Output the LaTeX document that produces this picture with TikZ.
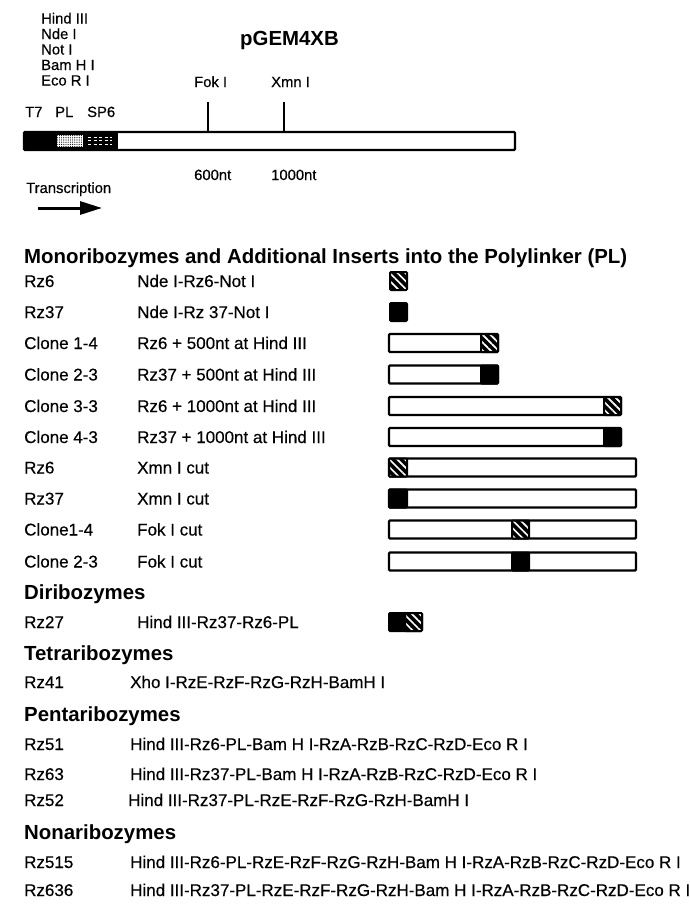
\documentclass[tikz,border=0pt]{standalone}
\usepackage{fontspec}
\setmainfont{Liberation Sans}
\newfontfamily\grueso{Liberation Sans}[FakeBold=0.4]
\usetikzlibrary{arrows.meta, patterns.meta, positioning}

\begin{document}
\begin{tikzpicture}[
  x=1pt, y=-1pt,
  lbl/.style={anchor=base west, inner sep=0pt, font=\grueso\fontsize{17}{19}\selectfont},
  tag/.style={anchor=base west, inner sep=0pt, font=\grueso\fontsize{14.8}{16}\selectfont},
  sec/.style={anchor=base west, inner sep=0pt, font=\fontsize{20.4}{22}\selectfont\bfseries},
  barra/.style={draw=black, line width=2.4pt, fill=white, rounded corners=1pt},
  rz37/.style={fill=black, draw=black, line width=2pt, rounded corners=1pt},
  rz6/.style={fill=black, rounded corners=1pt,
    postaction={pattern={Lines[angle=-45, distance=5.5pt, line width=1.7pt]}, pattern color=white},
    postaction={draw=black, line width=2pt}},
  corte/.style={line width=1.6pt},
  flecha/.style={-{Triangle[length=22pt, width=13pt]}, line width=3pt}
]

%% marco de la figura
\useasboundingbox (0,0) rectangle (690,910);

%% ─────────────────────────────────────────────────────────
%% PLÁSMIDO pGEM4XB
%% ─────────────────────────────────────────────────────────
\foreach \s [count=\i] in {Hind III, Nde I, Not I, Bam H I, Eco R I}
  \node[tag] (sitio\i) at (41, 8+15.5*\i) {\s};

\node[sec] (titulo) at (240,45) {pGEM4XB};

\node[tag] (fok)  at (194,87) {Fok I};
\node[tag] (xmn)  at (271,87) {Xmn I};

\node[tag] (t7)  at (25,117) {T7};
\node[tag] (pl)  at (55,117) {PL};
\node[tag] (sp6) at (87,117) {SP6};

% barra del plásmido
\draw[barra] (24,132) rectangle (515,150);
\fill (24,132) rectangle (118,150);
\fill[white] (57,135) rectangle (83,147);
\fill[pattern={Dots[distance=2.2pt, radius=0.6pt]}, pattern color=black]
  (57,135) rectangle (83,147);
\foreach \yy in {137,140.5,144}
  \draw[white, line width=0.5pt, dash pattern=on 3pt off 2.5pt] (88,\yy) -- (112,\yy);

% sitios de corte
\coordinate (pfok) at (208,132);
\coordinate (pxmn) at (284,132);
\draw[corte] (pfok) -- ++(0,-30);
\draw[corte] (pxmn) -- ++(0,-30);

\node[tag] (n600)  at (194,180) {600nt};
\node[tag] (n1000) at (271,180) {1000nt};

% transcripción
\node[tag] (transc) at (26,193) {Transcription};
\coordinate (ta) at (38,208);
\coordinate (tb) at (102,208);
\draw[flecha] (ta) -- (tb);

%% ─────────────────────────────────────────────────────────
%% MONORIBOZIMAS
%% ─────────────────────────────────────────────────────────
\node[sec] (mono) at (24,263)
  {Monoribozymes and Additional Inserts into the Polylinker (PL)};

\foreach \yc/\nm/\ins [count=\i] in {
    281/Rz6/Nde I-Rz6-Not I,
    312/Rz37/Nde I-Rz 37-Not I,
    343/Clone 1-4/Rz6 + 500nt at Hind III,
    374.5/Clone 2-3/Rz37 + 500nt at Hind III,
    406/Clone 3-3/Rz6 + 1000nt at Hind III,
    437/Clone 4-3/Rz37 + 1000nt at Hind III,
    467.5/Rz6/Xmn I cut,
    498.5/Rz37/Xmn I cut,
    529.5/Clone1-4/Fok I cut,
    561.5/Clone 2-3/Fok I cut}
{
  \node[lbl] (mn\i) at (24,\yc+6) {\nm};
  \node[lbl] (mi\i) at (137,\yc+6) {\ins};
}

% insertos solos
\draw[rz6]  (390,272) rectangle (407,290);
\draw[rz37] (390,303) rectangle (407,321);

% clones: fin de barra / celda de ribozima
\foreach \yc/\xe/\xa/\xb/\cel in {
    343/498/481/498/rz6,
    374.5/498/481/498/rz37,
    406/621/604/621/rz6,
    437/621/604/621/rz37,
    467.5/636/389/407/rz6,
    498.5/636/389/407/rz37,
    529.5/636/512/529/rz6,
    561.5/636/512/529/rz37}
{
  \draw[barra] (389,\yc-9) rectangle (\xe,\yc+9);
  \draw[\cel] (\xa,\yc-9) rectangle (\xb,\yc+9);
}

%% ─────────────────────────────────────────────────────────
%% DIRIBOZIMAS
%% ─────────────────────────────────────────────────────────
\node[sec] (di) at (24,599) {Diribozymes};
\node[lbl] (rz27)  at (24,628)  {Rz27};
\node[lbl] (rz27i) at (137,628) {Hind III-Rz37-Rz6-PL};
\draw[rz37] (389,613) rectangle (422,631);
\draw[rz6]  (405,613) rectangle (422,631);

%% ─────────────────────────────────────────────────────────
%% TETRA-, PENTA- Y NONARIBOZIMAS
%% ─────────────────────────────────────────────────────────
\node[sec] (tetra) at (24,660) {Tetraribozymes};
\node[lbl] (rz41)  at (24,688)  {Rz41};
\node[lbl] (rz41i) at (130,688) {Xho I-RzE-RzF-RzG-RzH-BamH I};

\node[sec] (penta) at (24,721) {Pentaribozymes};
\node[lbl] (rz51)  at (24,750)  {Rz51};
\node[lbl] (rz51i) at (130,750) {Hind III-Rz6-PL-Bam H I-RzA-RzB-RzC-RzD-Eco R I};
\node[lbl] (rz63)  at (24,780)  {Rz63};
\node[lbl] (rz63i) at (130,780) {Hind III-Rz37-PL-Bam H I-RzA-RzB-RzC-RzD-Eco R I};
\node[lbl] (rz52)  at (24,806)  {Rz52};
\node[lbl] (rz52i) at (128,806) {Hind III-Rz37-PL-RzE-RzF-RzG-RzH-BamH I};

\node[sec] (nona) at (24,839) {Nonaribozymes};
\node[lbl] (rz515)  at (24,868)  {Rz515};
\node[lbl] (rz515i) at (130,868) {Hind III-Rz6-PL-RzE-RzF-RzG-RzH-Bam H I-RzA-RzB-RzC-RzD-Eco R I};
\node[lbl] (rz636)  at (24,896)  {Rz636};
\node[lbl] (rz636i) at (130,896) {Hind III-Rz37-PL-RzE-RzF-RzG-RzH-Bam H I-RzA-RzB-RzC-RzD-Eco R I};

\end{tikzpicture}
\end{document}
